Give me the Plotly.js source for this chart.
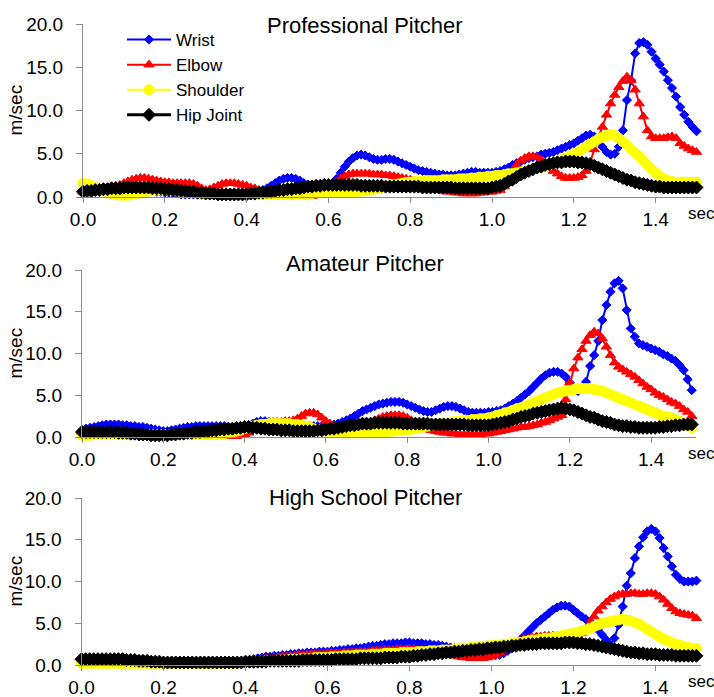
<!DOCTYPE html>
<html>
<head>
<meta charset="utf-8">
<script src="https://cdn.plot.ly/plotly-3.0.1.min.js"></script>
<style>
html,body{margin:0;padding:0;background:#fff;}
#chart{width:714px;height:697px;}
</style>
</head>
<body>
<div id="chart"></div>
<script>
// time axis (sec), sampled every 0.01 s from 0.00 to 1.50
const time = [];
for (let i = 0; i <= 150; i++) time.push(+(i / 100).toFixed(2));

const seriesNames = ["Wrist", "Elbow", "Shoulder", "Hip Joint"];
const panelTitles = ["Professional Pitcher", "Amateur Pitcher", "High School Pitcher"];
const yTickVals = [0, 5, 10, 15, 20];
const xTickVals = [0, 0.2, 0.4, 0.6, 0.8, 1.0, 1.2, 1.4];

// Professional pitcher (m/sec)
const proWrist = [
0.8,0.9,0.9,1.0,1.0,1.0,1.0,0.9,0.9,0.9,
0.9,0.9,0.8,0.8,0.8,0.7,0.7,0.7,0.6,0.6,
0.5,0.5,0.4,0.4,0.3,0.3,0.3,0.3,0.3,0.3,
0.3,0.3,0.3,0.3,0.3,0.3,0.4,0.4,0.5,0.5,
0.5,0.6,0.6,0.7,0.8,1.0,1.3,1.6,1.9,2.1,
2.2,2.2,2.1,1.9,1.6,1.4,1.3,1.3,1.3,1.3,
1.4,1.6,2.1,2.8,3.5,4.1,4.5,4.8,4.9,4.8,
4.6,4.4,4.3,4.3,4.4,4.4,4.3,4.1,3.9,3.7,
3.5,3.3,3.1,3.0,2.9,2.8,2.7,2.6,2.6,2.5,
2.5,2.5,2.6,2.7,2.8,2.9,2.9,2.8,2.8,2.8,
2.8,2.9,3.0,3.2,3.4,3.7,3.9,4.1,4.3,4.5,
4.6,4.7,4.9,5.0,5.1,5.2,5.4,5.6,5.8,6.0,
6.2,6.5,6.8,7.1,7.2,7.0,6.5,5.8,5.2,4.9,
5.0,5.8,7.7,11.2,13.5,16.6,17.8,17.9,17.6,16.8,
16.0,15.3,14.5,13.5,12.6,11.6,10.4,9.5,8.7,8.1,7.6];
const proElbow = [
0.6,0.7,0.8,0.9,1.0,1.0,1.1,1.2,1.3,1.4,
1.6,1.8,2.0,2.1,2.2,2.2,2.1,2.0,1.9,1.8,
1.7,1.7,1.6,1.6,1.6,1.6,1.6,1.5,1.3,1.0,
0.8,0.9,1.1,1.3,1.5,1.6,1.6,1.6,1.5,1.4,
1.3,1.1,1.0,0.8,0.7,0.6,0.6,0.6,0.6,0.6,
0.5,0.4,0.3,0.2,0.1,0.1,0.1,0.2,0.4,0.7,
1.0,1.4,1.8,2.1,2.4,2.6,2.7,2.7,2.7,2.7,
2.7,2.6,2.6,2.6,2.5,2.5,2.4,2.3,2.2,2.1,
2.0,1.8,1.6,1.4,1.2,1.0,0.9,0.8,0.7,0.6,
0.6,0.5,0.5,0.4,0.4,0.4,0.4,0.5,0.5,0.6,
0.6,0.7,0.8,1.2,2.0,2.9,3.7,4.2,4.5,4.7,
4.7,4.6,4.3,3.9,3.4,3.0,2.7,2.4,2.2,2.2,
2.2,2.3,2.5,3.0,4.0,5.5,6.8,8.1,9.5,10.8,
11.8,12.7,13.4,13.9,13.5,12.4,10.8,9.3,7.7,7.0,
6.8,6.8,6.8,6.9,7.0,6.8,6.2,5.9,5.6,5.4,5.2];
const proShoulder = [
1.6,1.5,1.3,1.1,0.9,0.7,0.5,0.4,0.3,0.2,
0.2,0.2,0.3,0.4,0.5,0.6,0.7,0.7,0.8,0.8,
0.8,0.8,0.7,0.7,0.6,0.6,0.5,0.5,0.5,0.4,
0.4,0.4,0.3,0.3,0.3,0.3,0.3,0.3,0.3,0.3,
0.3,0.3,0.3,0.3,0.3,0.3,0.3,0.3,0.3,0.3,
0.3,0.3,0.3,0.3,0.3,0.4,0.4,0.5,0.5,0.6,
0.6,0.6,0.6,0.6,0.6,0.6,0.6,0.6,0.7,0.7,
0.8,0.9,1.0,1.1,1.2,1.3,1.4,1.5,1.6,1.7,
1.7,1.8,1.8,1.8,1.9,1.9,1.9,1.9,2.0,2.0,
2.0,2.0,2.1,2.1,2.1,2.2,2.2,2.3,2.3,2.4,
2.4,2.5,2.5,2.6,2.7,2.7,2.8,2.9,3.0,3.1,
3.2,3.3,3.4,3.5,3.7,3.9,4.1,4.3,4.5,4.7,
4.9,5.2,5.5,5.8,6.1,6.4,6.7,6.9,7.1,7.2,
7.1,6.8,6.4,6.0,5.5,5.1,4.7,4.2,3.7,3.2,
2.8,2.4,2.1,1.9,1.8,1.7,1.7,1.7,1.7,1.7,1.7];
const proHip = [
0.6,0.7,0.7,0.8,0.8,0.9,0.9,1.0,1.0,1.0,
1.1,1.1,1.1,1.1,1.1,1.1,1.1,1.0,1.0,1.0,
0.9,0.9,0.8,0.8,0.7,0.7,0.6,0.6,0.5,0.5,
0.4,0.4,0.4,0.3,0.3,0.3,0.3,0.3,0.3,0.3,
0.3,0.4,0.4,0.5,0.5,0.6,0.6,0.7,0.8,0.8,
0.9,0.9,1.0,1.0,1.1,1.2,1.2,1.3,1.3,1.4,
1.4,1.4,1.4,1.4,1.4,1.4,1.4,1.4,1.3,1.3,
1.3,1.3,1.3,1.3,1.2,1.2,1.2,1.2,1.2,1.2,
1.2,1.2,1.2,1.1,1.1,1.1,1.1,1.1,1.1,1.1,
1.1,1.0,1.0,1.0,1.0,1.0,1.0,1.0,1.0,1.0,
1.1,1.2,1.3,1.5,1.8,2.0,2.3,2.6,2.8,3.0,
3.2,3.4,3.5,3.7,3.8,3.9,4.0,4.0,4.1,4.1,
4.1,4.0,4.0,3.9,3.8,3.6,3.4,3.2,3.0,2.8,
2.6,2.4,2.2,2.0,1.9,1.7,1.6,1.5,1.4,1.3,
1.2,1.2,1.1,1.1,1.1,1.1,1.1,1.1,1.1,1.1,1.1];

// Amateur pitcher (m/sec)
const amWrist = [
0.8,1.0,1.1,1.2,1.3,1.4,1.5,1.5,1.5,1.5,
1.4,1.4,1.3,1.3,1.2,1.2,1.1,1.0,0.9,0.8,
0.7,0.7,0.8,0.9,1.0,1.1,1.2,1.2,1.3,1.3,
1.3,1.3,1.3,1.3,1.3,1.3,1.2,1.2,1.2,1.2,
1.3,1.4,1.6,1.8,1.9,1.9,1.8,1.6,1.5,1.4,
1.4,1.4,1.4,1.3,1.3,1.3,1.3,1.3,1.3,1.3,
1.3,1.4,1.5,1.6,1.8,2.0,2.2,2.5,2.8,3.1,
3.3,3.5,3.7,3.9,4.0,4.1,4.2,4.2,4.2,4.1,
3.9,3.7,3.5,3.3,3.1,3.0,3.0,3.2,3.4,3.6,
3.7,3.7,3.6,3.4,3.2,3.0,2.9,2.9,2.9,2.9,
3.0,3.0,3.1,3.2,3.4,3.7,4.0,4.3,4.7,5.1,
5.5,6.0,6.5,7.0,7.4,7.7,7.8,7.8,7.6,7.2,
6.5,5.8,5.5,5.8,6.6,8.5,9.8,11.5,14.0,15.8,
17.4,18.4,18.7,17.8,15.2,13.0,12.0,11.2,11.0,10.8,
10.6,10.4,10.2,9.9,9.7,9.4,9.1,8.6,8.0,6.9,5.6];
const amElbow = [
0.6,0.7,0.7,0.8,0.8,0.8,0.8,0.8,0.8,0.7,
0.7,0.6,0.5,0.4,0.3,0.3,0.2,0.2,0.2,0.2,
0.2,0.2,0.3,0.3,0.4,0.4,0.4,0.4,0.3,0.3,
0.3,0.3,0.2,0.2,0.2,0.1,0.1,0.1,0.1,0.2,
0.3,0.5,0.8,1.1,1.4,1.6,1.7,1.8,1.8,1.8,
1.9,1.9,2.0,2.2,2.5,2.8,2.9,2.9,2.7,2.3,
1.9,1.6,1.3,1.1,1.0,1.0,1.0,1.1,1.2,1.4,
1.6,1.8,2.0,2.2,2.4,2.5,2.6,2.6,2.6,2.5,
2.3,2.0,1.7,1.4,1.1,0.9,0.8,0.7,0.6,0.5,
0.5,0.4,0.4,0.3,0.3,0.3,0.3,0.3,0.3,0.4,
0.4,0.5,0.6,0.7,0.8,0.9,1.0,1.1,1.2,1.2,
1.3,1.4,1.5,1.7,1.8,2.0,2.2,2.4,2.6,4.5,
6.5,8.2,9.5,10.5,11.5,12.2,12.6,12.4,11.8,10.8,
9.8,8.9,8.4,8.1,7.8,7.5,7.2,6.8,6.4,6.0,
5.7,5.3,5.0,4.8,4.5,4.2,4.0,3.7,3.3,3.0,2.5];
const amShoulder = [
0.2,0.2,0.2,0.3,0.3,0.3,0.3,0.3,0.3,0.3,
0.3,0.3,0.3,0.3,0.3,0.3,0.3,0.3,0.3,0.3,
0.3,0.3,0.3,0.3,0.3,0.3,0.3,0.3,0.3,0.3,
0.3,0.3,0.3,0.4,0.4,0.4,0.5,0.6,0.7,0.8,
1.0,1.1,1.3,1.4,1.5,1.5,1.6,1.6,1.6,1.6,
1.6,1.6,1.5,1.5,1.4,1.3,1.2,1.0,0.9,0.8,
0.7,0.6,0.6,0.5,0.5,0.5,0.5,0.5,0.5,0.5,
0.5,0.5,0.5,0.6,0.6,0.6,0.7,0.7,0.8,0.8,
0.9,0.9,1.0,1.1,1.2,1.3,1.4,1.5,1.6,1.7,
1.7,1.8,1.9,1.9,2.0,2.0,2.1,2.1,2.2,2.2,
2.3,2.4,2.6,2.7,2.9,3.0,3.2,3.4,3.5,3.7,
3.9,4.1,4.3,4.5,4.7,4.9,5.1,5.3,5.4,5.5,
5.6,5.7,5.8,5.8,5.8,5.8,5.7,5.6,5.5,5.3,
5.1,4.9,4.7,4.5,4.3,4.1,3.9,3.7,3.5,3.3,
3.1,2.9,2.7,2.5,2.4,2.3,2.1,1.9,1.6,1.3,1.1];
const amHip = [
0.6,0.6,0.6,0.6,0.6,0.6,0.6,0.6,0.6,0.5,
0.5,0.5,0.4,0.4,0.3,0.3,0.3,0.2,0.2,0.2,
0.2,0.2,0.3,0.3,0.4,0.4,0.5,0.5,0.6,0.6,
0.7,0.7,0.8,0.8,0.9,0.9,1.0,1.0,1.1,1.1,
1.2,1.2,1.1,1.1,1.0,1.0,0.9,0.9,0.9,0.8,
0.8,0.8,0.7,0.7,0.7,0.7,0.7,0.7,0.8,0.8,
0.9,1.0,1.0,1.1,1.2,1.3,1.4,1.4,1.5,1.6,
1.6,1.6,1.7,1.7,1.7,1.7,1.7,1.7,1.7,1.6,
1.6,1.6,1.6,1.6,1.6,1.6,1.5,1.5,1.5,1.5,
1.5,1.5,1.5,1.5,1.5,1.4,1.4,1.4,1.4,1.4,
1.4,1.5,1.6,1.7,1.8,1.9,2.1,2.2,2.4,2.5,
2.6,2.8,2.9,3.0,3.1,3.2,3.3,3.4,3.5,3.4,
3.3,3.2,3.0,2.8,2.6,2.4,2.3,2.1,1.9,1.8,
1.7,1.5,1.4,1.3,1.3,1.2,1.2,1.1,1.1,1.1,
1.1,1.1,1.2,1.2,1.3,1.3,1.4,1.4,1.5,1.5,1.5];

// High school pitcher (m/sec)
const hsWrist = [
0.5,0.5,0.5,0.5,0.5,0.5,0.5,0.5,0.5,0.5,
0.4,0.4,0.4,0.4,0.4,0.4,0.3,0.3,0.3,0.3,
0.3,0.3,0.3,0.3,0.3,0.3,0.3,0.3,0.3,0.3,
0.3,0.3,0.3,0.3,0.3,0.3,0.4,0.4,0.4,0.5,
0.5,0.6,0.7,0.8,0.9,1.0,1.0,1.1,1.1,1.2,
1.2,1.3,1.3,1.4,1.4,1.5,1.5,1.5,1.6,1.6,
1.6,1.7,1.7,1.8,1.8,1.9,1.9,2.0,2.0,2.1,
2.2,2.3,2.3,2.4,2.5,2.5,2.6,2.6,2.6,2.7,
2.7,2.6,2.6,2.6,2.5,2.5,2.4,2.4,2.3,2.2,
2.1,2.0,1.9,1.8,1.7,1.6,1.5,1.4,1.3,1.3,
1.3,1.2,1.2,1.4,1.7,2.0,2.5,3.0,3.5,4.0,
4.5,5.0,5.4,5.8,6.2,6.6,6.9,7.1,7.1,7.0,
6.6,6.2,5.8,5.5,5.2,4.7,4.2,3.6,3.0,2.4,
3.2,4.8,7.0,9.5,11.0,12.8,14.2,15.3,16.0,16.3,
16.0,15.2,14.0,13.0,11.8,10.8,10.3,10.0,10.0,10.0,10.1];
const hsElbow = [
0.4,0.4,0.4,0.4,0.4,0.4,0.4,0.4,0.4,0.4,
0.4,0.4,0.3,0.3,0.3,0.3,0.3,0.3,0.3,0.3,
0.3,0.3,0.3,0.3,0.3,0.3,0.3,0.3,0.3,0.3,
0.3,0.3,0.3,0.3,0.3,0.3,0.3,0.4,0.4,0.4,
0.5,0.5,0.6,0.6,0.7,0.8,0.8,0.9,0.9,1.0,
1.0,1.1,1.1,1.2,1.2,1.2,1.3,1.3,1.3,1.3,
1.4,1.4,1.4,1.4,1.5,1.5,1.5,1.5,1.6,1.6,
1.6,1.7,1.7,1.7,1.8,1.8,1.8,1.9,1.9,1.9,
1.9,1.9,1.8,1.8,1.7,1.7,1.6,1.5,1.4,1.3,
1.2,1.1,1.0,0.9,0.9,0.8,0.8,0.8,0.8,0.9,
1.0,1.2,1.5,1.8,2.1,2.4,2.7,2.9,3.1,3.2,
3.3,3.4,3.4,3.5,3.5,3.5,3.5,3.5,3.5,3.5,
3.5,3.6,3.8,4.3,5.0,5.8,6.5,7.0,7.5,7.9,
8.2,8.4,8.5,8.5,8.6,8.6,8.5,8.5,8.6,8.6,
8.5,8.2,7.8,7.3,6.8,6.4,6.2,6.1,6.0,5.9,5.6];
const hsShoulder = [
0.2,0.2,0.2,0.2,0.2,0.2,0.2,0.2,0.2,0.2,
0.2,0.2,0.2,0.2,0.2,0.2,0.2,0.2,0.2,0.2,
0.2,0.2,0.2,0.2,0.2,0.2,0.2,0.2,0.2,0.2,
0.2,0.2,0.2,0.2,0.2,0.2,0.2,0.2,0.3,0.3,
0.3,0.3,0.4,0.4,0.4,0.5,0.5,0.5,0.6,0.6,
0.6,0.7,0.7,0.7,0.8,0.8,0.8,0.9,0.9,0.9,
0.9,1.0,1.0,1.0,1.1,1.1,1.1,1.2,1.2,1.2,
1.2,1.3,1.3,1.3,1.4,1.4,1.4,1.4,1.5,1.5,
1.5,1.5,1.6,1.6,1.6,1.7,1.7,1.7,1.8,1.8,
1.8,1.9,1.9,2.0,2.0,2.1,2.1,2.2,2.2,2.3,
2.3,2.4,2.4,2.5,2.5,2.6,2.7,2.7,2.8,2.9,
3.0,3.0,3.1,3.2,3.2,3.3,3.4,3.5,3.6,3.7,
3.8,3.9,4.1,4.2,4.4,4.6,4.8,5.0,5.1,5.2,
5.3,5.4,5.5,5.4,5.3,5.1,4.9,4.6,4.3,4.0,
3.7,3.4,3.1,2.9,2.7,2.5,2.4,2.2,2.1,2.0,2.0];
const hsHip = [
0.7,0.7,0.7,0.7,0.7,0.7,0.7,0.7,0.7,0.7,
0.7,0.6,0.6,0.6,0.5,0.5,0.5,0.4,0.4,0.4,
0.3,0.3,0.3,0.3,0.3,0.3,0.3,0.3,0.3,0.3,
0.3,0.3,0.3,0.3,0.3,0.3,0.3,0.3,0.3,0.3,
0.4,0.4,0.4,0.4,0.4,0.4,0.5,0.5,0.5,0.5,
0.5,0.5,0.5,0.5,0.6,0.6,0.6,0.6,0.6,0.6,
0.6,0.6,0.7,0.7,0.7,0.7,0.7,0.7,0.8,0.8,
0.8,0.8,0.8,0.8,0.9,0.9,0.9,0.9,1.0,1.0,
1.0,1.1,1.1,1.2,1.2,1.3,1.3,1.4,1.4,1.5,
1.5,1.6,1.6,1.7,1.7,1.8,1.8,1.9,1.9,2.0,
2.0,2.1,2.1,2.2,2.2,2.3,2.3,2.4,2.4,2.5,
2.5,2.5,2.6,2.6,2.6,2.6,2.6,2.6,2.7,2.7,
2.7,2.6,2.6,2.5,2.5,2.4,2.3,2.2,2.1,2.0,
1.9,1.8,1.7,1.6,1.5,1.5,1.4,1.4,1.3,1.3,
1.3,1.2,1.2,1.2,1.2,1.1,1.1,1.1,1.1,1.1,1.1];

const panels = [
  [proWrist, proElbow, proShoulder, proHip],
  [amWrist, amElbow, amShoulder, amHip],
  [hsWrist, hsElbow, hsShoulder, hsHip]
];

const styles = [
  {color: "#0000FF", symbol: "diamond", size: 7, width: 2},
  {color: "#FF0000", symbol: "triangle-up", size: 9, width: 2},
  {color: "#FFFF00", symbol: "circle", size: 10, width: 2},
  {color: "#000000", symbol: "diamond", size: 10, width: 3}
];

const W = 714, H = 697;
// pixel geometry of each panel: [left, right, top, bottom]
const geom = [
  [83, 700.6, 24, 197],
  [82, 695.8, 270, 437],
  [81.5, 700.5, 498, 665]
];
const FONT = "Liberation Sans, Arial, sans-serif";

const traces = [];
panels.forEach((series, p) => {
  const sfx = p === 0 ? "" : String(p + 1);
  series.forEach((vals, k) => {
    const s = styles[k];
    traces.push({
      type: "scatter", mode: "lines+markers",
      x: time, y: vals, name: seriesNames[k],
      xaxis: "x" + sfx, yaxis: "y" + sfx,
      showlegend: p === 0, cliponaxis: false,
      line: {color: s.color, width: s.width},
      marker: {color: s.color, symbol: s.symbol, size: s.size,
               line: {color: s.color, width: 1}}
    });
  });
});

const layout = {
  width: W, height: H,
  margin: {l: 0, r: 0, t: 0, b: 0},
  paper_bgcolor: "#fff", plot_bgcolor: "#fff",
  font: {family: FONT, size: 19, color: "#000"},
  showlegend: true,
  legend: {
    x: 122 / W, y: 1 - 22 / H, xanchor: "left", yanchor: "top",
    bgcolor: "rgba(255,255,255,0)", borderwidth: 0,
    font: {family: FONT, size: 17, color: "#000"},
    itemwidth: 44, tracegroupgap: 0
  },
  annotations: [],
  hovermode: false
};

geom.forEach((g, p) => {
  const sfx = p === 0 ? "" : String(p + 1);
  const ydom = [1 - g[3] / H, 1 - g[2] / H];
  layout["xaxis" + sfx] = {
    domain: [g[0] / W, g[1] / W], range: [0, 1.51],
    tickvals: xTickVals, tickformat: ".1f",
    showgrid: false, zeroline: false, showline: true,
    linecolor: "#8c8c8c", linewidth: 1,
    ticks: "outside", ticklen: 5, tickcolor: "#8c8c8c",
    tickfont: {family: FONT, size: 19, color: "#000"},
    anchor: "y" + sfx, fixedrange: true
  };
  layout["yaxis" + sfx] = {
    domain: ydom, range: [0, 20],
    tickvals: yTickVals, tickformat: ".1f",
    showgrid: false, zeroline: false, showline: true,
    linecolor: "#8c8c8c", linewidth: 1,
    ticks: "outside", ticklen: 6, tickcolor: "#8c8c8c",
    ticklabelstandoff: 9,
    tickfont: {family: FONT, size: 19, color: "#000"},
    anchor: "x" + sfx, fixedrange: true
  };
  // panel title
  layout.annotations.push({
    text: panelTitles[p], xref: "paper", yref: "paper",
    x: 365 / W, y: 1 - [25, 263, 497][p] / H,
    xanchor: "center", yanchor: "middle", showarrow: false,
    font: {family: FONT, size: 22, color: "#000"}
  });
  // y unit
  layout.annotations.push({
    text: "m/sec", xref: "paper", yref: "paper",
    x: 15 / W, y: 1 - ((g[2] + g[3]) / 2) / H, textangle: -90,
    xanchor: "center", yanchor: "middle", showarrow: false,
    font: {family: FONT, size: 19, color: "#000"}
  });
  // x unit
  layout.annotations.push({
    text: "sec", xref: "paper", yref: "paper",
    x: 686 / W, y: 1 - (g[3] + 16) / H,
    xanchor: "left", yanchor: "middle", showarrow: false,
    font: {family: FONT, size: 17, color: "#000"}
  });
});

Plotly.newPlot("chart", traces, layout, {staticPlot: true, displayModeBar: false});
</script>
</body>
</html>
